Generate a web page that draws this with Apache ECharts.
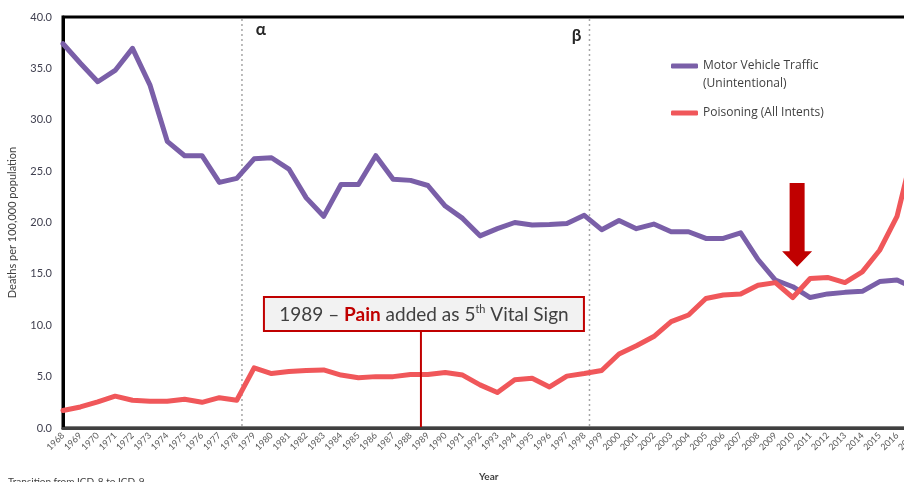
<!DOCTYPE html>
<html>
<head>
<meta charset="utf-8">
<script src="https://cdn.jsdelivr.net/npm/echarts@6/dist/echarts.min.js"></script>
<style>
html,body{margin:0;padding:0;background:#fff;}
#c{width:904px;height:482px;}
</style>
</head>
<body>
<div id="c"></div>
<script>
const years = ['1968','1969','1970','1971','1972','1973','1974','1975','1976','1977',
  '1978','1979','1980','1981','1982','1983','1984','1985','1986','1987',
  '1988','1989','1990','1991','1992','1993','1994','1995','1996','1997',
  '1998','1999','2000','2001','2002','2003','2004','2005','2006','2007',
  '2008','2009','2010','2011','2012','2013','2014','2015','2016','2017'];

const motorVehicle = [37.4,35.5,33.7,34.8,36.95,33.4,27.9,26.5,26.5,23.9,
  24.3,26.2,26.3,25.2,22.4,20.6,23.7,23.7,26.5,24.2,
  24.1,23.6,21.6,20.4,18.7,19.4,20.0,19.75,19.8,19.9,
  20.7,19.3,20.2,19.4,19.85,19.1,19.1,18.45,18.45,19.0,
  16.4,14.4,13.75,12.7,13.05,13.2,13.3,14.25,14.4,13.6];

const poisoning = [1.7,2.05,2.55,3.1,2.7,2.6,2.6,2.8,2.5,2.95,
  2.7,5.85,5.3,5.5,5.6,5.65,5.15,4.9,5.0,5.0,
  5.2,5.2,5.4,5.15,4.2,3.45,4.7,4.85,4.0,5.05,
  5.3,5.6,7.2,8.0,8.9,10.35,11.0,12.6,12.95,13.05,
  13.9,14.15,12.7,14.55,14.65,14.15,15.2,17.3,20.6,27.5];

const seriesNames = ['Motor Vehicle Traffic', 'Poisoning (All Intents)'];
const transitionMarks = [{label:'α', year:1978.3}, {label:'β', year:1998.3}];
const painYear = 1988.6;
const arrowYear = 2010.25;

const FONT = 'Lato, "Open Sans", sans-serif';
const LFONT = '"Open Sans", Lato, sans-serif';
const chart = echarts.init(document.getElementById('c'), null, {renderer:'canvas'});

const option = {
  animation: false,
  backgroundColor: '#ffffff',
  grid: {
    left: 63, top: 17, width: 851.4, height: 411,
    outerBoundsMode: 'none', containLabel: false,
    show: true, borderColor: '#000000', borderWidth: 3, backgroundColor: 'transparent'
  },
  legend: {
    data: seriesNames,
    orient: 'vertical',
    left: 671, top: 60, padding: 0,
    itemWidth: 27, itemHeight: 5, itemGap: 35,
    icon: 'roundRect',
    textStyle: {fontFamily: LFONT, fontSize: 12, color: '#404040'}
  },
  xAxis: {
    type: 'category',
    data: years,
    boundaryGap: false,
    name: 'Year',
    nameLocation: 'middle',
    nameGap: 44,
    nameTextStyle: {fontFamily: FONT, fontSize: 10, fontWeight: 'bold', color: '#404040'},
    axisLine: {show: true, lineStyle: {color: '#404040', width: 3}},
    axisTick: {show: false},
    axisLabel: {interval: 0, rotate: 45, fontSize: 9, fontFamily: FONT, color: '#595959', margin: 6},
    splitLine: {show: false}
  },
  yAxis: {
    type: 'value',
    min: 0, max: 40, interval: 5,
    name: 'Deaths per 100,000 population',
    nameLocation: 'middle',
    nameGap: 45,
    nameRotate: 90,
    nameTextStyle: {fontFamily: FONT, fontSize: 11, color: '#404040'},
    axisLine: {show: true, lineStyle: {color: '#000000', width: 3}},
    axisTick: {show: false},
    axisLabel: {fontFamily: FONT, fontSize: 11, color: '#404050', margin: 11,
      formatter: v => v.toFixed(1)},
    splitLine: {show: false}
  },
  series: [
    {name: seriesNames[0], type: 'line', data: motorVehicle, symbol: 'none',
      lineStyle: {color: '#7a5fa8', width: 5, join: 'round', cap: 'round'},
      itemStyle: {color: '#7a5fa8'}, z: 3},
    {name: seriesNames[1], type: 'line', data: poisoning, symbol: 'none',
      lineStyle: {color: '#f0575a', width: 5, join: 'round', cap: 'round'},
      itemStyle: {color: '#f0575a'}, z: 4}
  ]
};
chart.setOption(option);

function xPix(fyear) {
  const fi = fyear - 1968;
  const i0 = Math.floor(fi), i1 = Math.min(i0 + 1, years.length - 1);
  const p0 = chart.convertToPixel({xAxisIndex: 0}, i0);
  const p1 = chart.convertToPixel({xAxisIndex: 0}, i1);
  return p0 + (p1 - p0) * (fi - i0);
}
function yPix(v) { return chart.convertToPixel({yAxisIndex: 0}, v); }

const yTop = yPix(40), yBot = yPix(0);
const graphics = [];
transitionMarks.forEach((m, k) => {
  const x = xPix(m.year);
  graphics.push({type: 'line', z: 1, shape: {x1: x, y1: yTop + 2, x2: x, y2: yBot - 2},
    style: {stroke: '#a6a6a6', lineWidth: 1.5, lineDash: [2, 3]}});
  graphics.push({type: 'text', z: 10,
    x: k === 0 ? x + 19 : x - 13, y: k === 0 ? 30 : 36,
    style: {text: m.label, fontFamily: FONT, fontSize: 17, fontWeight: 'bold', fill: '#262626',
      align: 'center', verticalAlign: 'middle'}});
});

// Pain annotation
const px = xPix(painYear);
const boxTop = yPix(12.75), boxBot = yPix(9.45);
const bx = px + 3 - 160;
graphics.push({type: 'line', z: 10, shape: {x1: px, y1: boxBot, x2: px, y2: yBot - 1},
  style: {stroke: '#c00000', lineWidth: 2}});
graphics.push({type: 'rect', z: 11, shape: {x: bx, y: boxTop, width: 320, height: boxBot - boxTop},
  style: {fill: '#f2f2f2', stroke: '#c00000', lineWidth: 2}});
graphics.push({type: 'text', z: 12, x: bx + 160, y: (boxTop + boxBot) / 2 + 1,
  style: {
    text: '{n|1989 – }{p|Pain}{n| added as 5}{s|th}{n| Vital Sign}',
    align: 'center', verticalAlign: 'middle',
    rich: {
      n: {fontFamily: FONT, fontSize: 19, fill: '#404040', lineHeight: 22},
      p: {fontFamily: FONT, fontSize: 19, fontWeight: 'bold', fill: '#c00000', lineHeight: 22},
      s: {fontFamily: FONT, fontSize: 11, fill: '#404040', verticalAlign: 'top', lineHeight: 22}
    }
  }});

// Arrow
const ax = xPix(arrowYear);
const aTop = yPix(23.85), aMid = yPix(17.2), aTip = yPix(15.7);
graphics.push({type: 'polygon', z: 12,
  shape: {points: [[ax - 7.5, aTop], [ax + 7.5, aTop], [ax + 7.5, aMid], [ax + 15, aMid],
    [ax, aTip], [ax - 15, aMid], [ax - 7.5, aMid]]},
  style: {fill: '#c00000'}});

// legend second line
graphics.push({type: 'text', z: 12, x: 703, y: 84,
  style: {text: '(Unintentional)', fontFamily: LFONT, fontSize: 12, fill: '#404040', verticalAlign: 'middle'}});

// footnote (cut off at bottom)
graphics.push({type: 'text', z: 12, x: 8, y: 477,
  style: {text: 'Transition from ICD-8 to ICD-9', fontFamily: FONT, fontSize: 10, fill: '#404040', verticalAlign: 'top'}});

chart.setOption({graphic: graphics});
</script>
</body>
</html>
